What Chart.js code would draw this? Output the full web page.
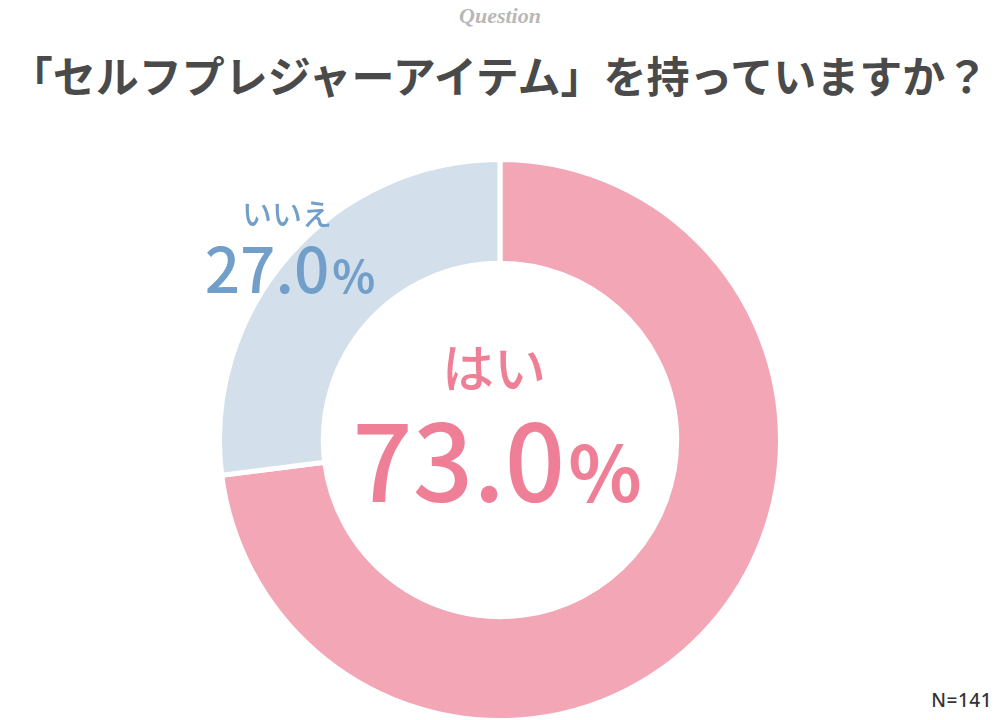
<!DOCTYPE html>
<html lang="ja">
<head>
<meta charset="utf-8">
<script src="https://cdn.jsdelivr.net/npm/chart.js@4"></script>
<style>
  body { margin: 0; background: #fff; }
  #wrap { position: relative; width: 1000px; height: 720px; overflow: hidden; font-family: "Noto Sans CJK JP", "Noto Sans", sans-serif; }
  .t { position: absolute; white-space: nowrap; line-height: 1; transform: translate(-50%, -50%); }
  #question { left: 500px; top: 16px; font-family: "Liberation Serif", serif; font-style: italic; font-weight: bold; font-size: 22px; color: #b8b8b8; }
  #title { left: 499px; top: 74px; font-size: 43px; font-weight: 700; color: #4a4a4a; }
  #chartBox { position: absolute; left: 217px; top: 157px; width: 566px; height: 566px; }
  #yesName { left: 494px; top: 366px; font-size: 52px; font-weight: 500; color: #ee7f96; }
  #yesVal { left: 497px; top: 456px; font-size: 106px; font-weight: 500; color: #ee7f96; }
  #noName { left: 287px; top: 212px; font-size: 30px; font-weight: 500; color: #729fc9; }
  #noVal { left: 290px; top: 266px; font-size: 62px; font-weight: 500; color: #729fc9; }
  .pct { font-size: 0.72em; margin-left: 3px; font-weight: 700; }
  #nCount { right: 8px; top: 700px; transform: translate(0, -50%); font-family: "Noto Sans", sans-serif; font-size: 19px; font-weight: 500; color: #333; letter-spacing: 0.5px; }
</style>
</head>
<body>
<div id="wrap">
  <div class="t" id="question">Question</div>
  <div class="t" id="title">「セルフプレジャーアイテム」を持っていますか？</div>
  <div id="chartBox"><canvas id="grafico"></canvas></div>
  <div class="t" id="yesName"></div>
  <div class="t" id="yesVal"></div>
  <div class="t" id="noName"></div>
  <div class="t" id="noVal"></div>
  <div class="t" id="nCount"></div>
</div>
<script>
// dados
const respostas = ["はい", "いいえ"];
const porcentagens = [73.0, 27.0];
const totalRespostas = 141;

const cores = ["#f3a6b6", "#d3e0ec"];

document.getElementById("yesName").textContent = respostas[0];
document.getElementById("yesVal").innerHTML = porcentagens[0].toFixed(1) + '<span class="pct">%</span>';
document.getElementById("noName").textContent = respostas[1];
document.getElementById("noVal").innerHTML = porcentagens[1].toFixed(1) + '<span class="pct">%</span>';
document.getElementById("nCount").textContent = "N=" + totalRespostas;

const config = {
  type: "doughnut",
  data: {
    labels: respostas,
    datasets: [
      {
        data: porcentagens,
        backgroundColor: cores,
        borderColor: "#ffffff",
        borderWidth: 5,
        hoverOffset: 0,
      },
    ],
  },
  options: {
    responsive: true,
    maintainAspectRatio: false,
    animation: false,
    cutout: "63%",
    layout: { padding: 0 },
    plugins: {
      legend: { display: false },
      tooltip: { enabled: false },
    },
  },
};

let myChart = new Chart(document.getElementById("grafico"), config);
</script>
</body>
</html>
